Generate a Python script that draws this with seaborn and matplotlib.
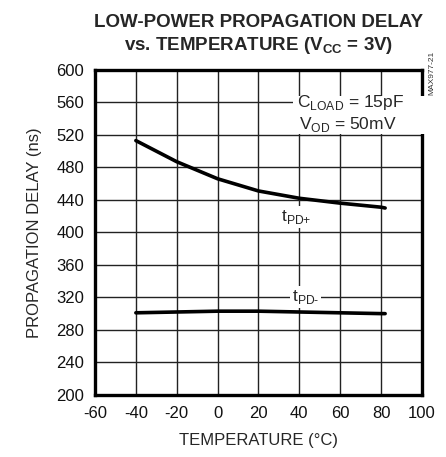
import numpy as np
import pandas as pd
import matplotlib
matplotlib.use("Agg")
import matplotlib.pyplot as plt
import seaborn as sns

# data
temp = [-40, -20, 0, 20, 40, 60, 80, 82]
tpd_plus = [513, 487, 466, 451, 442, 436, 431, 430]
tpd_minus = [301, 302, 303, 303, 302, 301, 300, 300]
xticks = [-60, -40, -20, 0, 20, 40, 60, 80, 100]
yticks = [200, 240, 280, 320, 360, 400, 440, 480, 520, 560, 600]

sns.set_style("white")
plt.rcParams['font.family'] = ['Liberation Sans', 'DejaVu Sans']
plt.rcParams['axes.unicode_minus'] = False
plt.rcParams['mathtext.fontset'] = 'custom'
plt.rcParams['mathtext.rm'] = 'Liberation Sans'
plt.rcParams['mathtext.bf'] = 'Liberation Sans:bold'

df = pd.DataFrame({'temp': temp + temp,
                   'delay': tpd_plus + tpd_minus,
                   'series': ['plus'] * len(temp) + ['minus'] * len(temp)})

fig = plt.figure(figsize=(4.46, 4.57), dpi=100)
ax = fig.add_axes([0.213, 0.136, 0.733, 0.711])

sns.lineplot(data=df, x='temp', y='delay', units='series', estimator=None,
             color='black', linewidth=2.6, ax=ax, legend=False)

ax.set_xlim(-60, 100)
ax.set_ylim(200, 600)
ax.set_xticks(xticks)
ax.set_yticks(yticks)
ax.grid(True, color='#222222', linewidth=1.0)
ax.set_axisbelow(True)
for s in ax.spines.values():
    s.set_linewidth(2.4)
    s.set_color('black')
ax.tick_params(length=0, labelsize=12, pad=8, colors='#111111')

ax.set_xlabel('TEMPERATURE (°C)', fontsize=12, labelpad=9)
ax.set_ylabel('PROPAGATION DELAY (ns)', fontsize=12, labelpad=10)

ax.set_title('LOW-POWER PROPAGATION DELAY\nvs. TEMPERATURE (V$_{\\mathbf{CC}}$ = 3V)',
             fontsize=13.5, fontweight='bold', pad=14, linespacing=1.3)

white = dict(facecolor='white', edgecolor='none', pad=1.5)

# white patch behind the condition note
ax.text(38.3, 545, ' ' * 30 + '\n' + ' ' * 30, fontsize=12.5, ha='left', va='center',
        bbox=dict(facecolor='white', edgecolor='none', pad=2))
ax.text(39, 560, r'C$_{\text{LOAD}}$ = 15pF', fontsize=12.5, ha='left', va='center')
ax.text(40, 533, r'V$_{\text{OD}}$ = 50mV', fontsize=12.5, ha='left', va='center')
ax.text(38.5, 419, r't$_{\text{PD+}}$', fontsize=12.5, ha='center', va='center', bbox=white)
ax.text(43, 320, r't$_{\text{PD-}}$', fontsize=12.5, ha='center', va='center', bbox=white)

fig.text(0.968, 0.84, 'MAX977-21', rotation=90, fontsize=6, ha='center', va='center',
         color='#333333')

fig.savefig('out.png', dpi=100)
